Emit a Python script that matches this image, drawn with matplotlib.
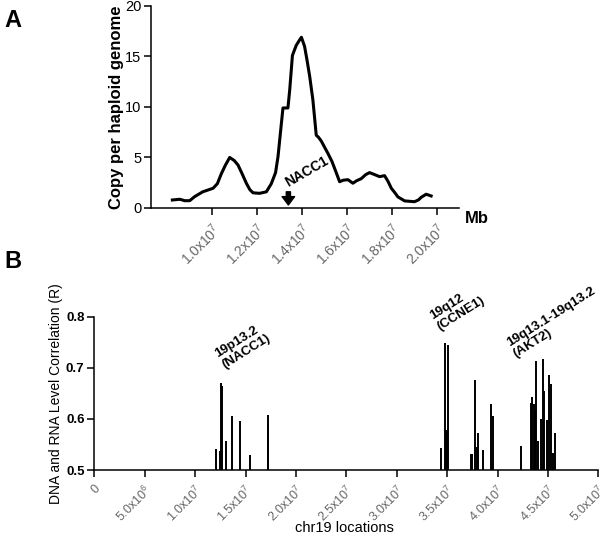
import matplotlib
matplotlib.use('Agg')
import matplotlib.pyplot as plt

plt.rcParams['font.family'] = ['Liberation Sans', 'DejaVu Sans']
plt.rcParams['mathtext.fontset'] = 'custom'
plt.rcParams['mathtext.rm'] = 'Liberation Sans'
plt.rcParams['mathtext.it'] = 'Liberation Sans:italic'
plt.rcParams['mathtext.bf'] = 'Liberation Sans:bold'

# Panel A: copy number along chr19 (positions in Mb)
a_pos = [8.25, 8.58, 8.80, 9.02, 9.24, 9.60, 10.06, 10.25, 10.43, 10.60,
         10.80, 11.00, 11.17, 11.35, 11.54, 11.70, 11.84, 12.13, 12.43, 12.65,
         12.84, 12.95, 13.10, 13.17, 13.39, 13.47, 13.59, 13.76, 13.90, 13.99,
         14.13, 14.25, 14.36, 14.50, 14.65, 14.75, 14.88, 15.00, 15.17, 15.35,
         15.47, 15.69, 15.85, 16.06, 16.28, 16.45, 16.65, 16.85, 17.02, 17.25,
         17.47, 17.69, 17.85, 17.99, 18.15, 18.28, 18.58, 19.02, 19.20, 19.32,
         19.54, 19.76]
a_copy = [0.79, 0.86, 0.72, 0.72, 1.12, 1.60, 1.95, 2.40, 3.40, 4.20,
          5.00, 4.70, 4.25, 3.40, 2.45, 1.80, 1.50, 1.45, 1.60, 2.40,
          3.50, 5.10, 8.40, 9.90, 9.90, 11.70, 15.10, 16.10, 16.60, 16.90,
          16.00, 14.50, 13.00, 10.70, 7.20, 7.00, 6.60, 6.10, 5.40, 4.60,
          3.90, 2.60, 2.75, 2.80, 2.45, 2.70, 2.90, 3.30, 3.50, 3.30,
          3.10, 3.20, 2.60, 1.95, 1.50, 1.10, 0.70, 0.62, 0.80, 1.06,
          1.36, 1.19]
a_xticks = [1.0e7, 1.2e7, 1.4e7, 1.6e7, 1.8e7, 2.0e7]
a_xlabels = [r'1.0x10$^{7}$', r'1.2x10$^{7}$', r'1.4x10$^{7}$',
             r'1.6x10$^{7}$', r'1.8x10$^{7}$', r'2.0x10$^{7}$']
a_yticks = [0, 5, 10, 15, 20]
nacc1_pos = 13.41e6

# Panel B: DNA/RNA correlation per locus (positions in Mb)
b_pos = [12.12, 12.51, 12.61, 12.71, 13.07, 13.70, 14.50, 15.45, 17.20, 17.27,
         34.40, 34.79, 34.90, 35.00, 35.12, 37.40, 37.50, 37.76, 37.92, 38.09,
         38.58, 39.35, 39.57, 42.35, 43.34, 43.47, 43.58, 43.70, 43.83, 44.03,
         44.36, 44.52, 44.65, 44.89, 45.12, 45.35, 45.49, 45.71]
b_corr = [0.541, 0.538, 0.671, 0.665, 0.557, 0.605, 0.595, 0.529, 0.608, 0.588,
          0.544, 0.748, 0.578, 0.578, 0.745, 0.531, 0.531, 0.676, 0.546, 0.572,
          0.539, 0.629, 0.606, 0.547, 0.631, 0.643, 0.630, 0.616, 0.714, 0.556,
          0.600, 0.718, 0.655, 0.597, 0.686, 0.669, 0.534, 0.573]
b_xticks = [0, 5e6, 1e7, 1.5e7, 2e7, 2.5e7, 3e7, 3.5e7, 4e7, 4.5e7, 5e7]
b_xlabels = ['0', r'5.0x10$^{6}$', r'1.0x10$^{7}$', r'1.5x10$^{7}$',
             r'2.0x10$^{7}$', r'2.5x10$^{7}$', r'3.0x10$^{7}$', r'3.5x10$^{7}$',
             r'4.0x10$^{7}$', r'4.5x10$^{7}$', r'5.0x10$^{7}$']
b_yticks = [0.5, 0.6, 0.7, 0.8]
b_regions = ['19p13.2\n(NACC1)', '19q12\n(CCNE1)', '19q13.1-19q13.2\n(AKT2)']
b_region_pos = [(13.1e6, 0.694), (34.4e6, 0.769), (42.0e6, 0.7145)]

gris = '#666666'

fig = plt.figure(figsize=(6.0, 5.36), dpi=100)

# ---- A ----
ax1 = fig.add_axes([0.2517, 0.612, 0.5133, 0.3769])
ax1.plot([p * 1e6 for p in a_pos], a_copy, color='black', lw=2.2)
ax1.set_xlim(7.3e6, 2.1e7)
ax1.set_ylim(0, 20)
ax1.set_xticks(a_xticks)
ax1.set_xticklabels(a_xlabels, rotation=45, ha='right', va='top',
                    rotation_mode='anchor', color=gris, fontsize=10)
ax1.set_yticks(a_yticks)
ax1.tick_params(axis='y', labelsize=10.5, length=5, width=1.1, pad=2)
ax1.tick_params(axis='x', length=5, width=1.1, pad=4)
ax1.set_ylabel('Copy per haploid genome', fontsize=12, fontweight='bold')
ax1.yaxis.set_label_coords(-0.088, 0.5)
for s in ['top', 'right']:
    ax1.spines[s].set_visible(False)
for s in ['left', 'bottom']:
    ax1.spines[s].set_linewidth(1.1)

ax1.annotate('', xy=(nacc1_pos, 0.3), xytext=(nacc1_pos, 1.6),
             arrowprops=dict(facecolor='black', edgecolor='black',
                             width=3, headwidth=9, headlength=6))
ax1.text(13.38e6, 2.1, 'NACC1', rotation=30, rotation_mode='anchor',
         ha='left', va='baseline', fontsize=10, fontweight='bold')
ax1.text(1.02, -0.05, 'Mb', transform=ax1.transAxes, fontsize=12,
         fontweight='bold', ha='left', va='center')

# ---- B ----
ax2 = fig.add_axes([0.1572, 0.1231, 0.84, 0.286])
ax2.vlines([p * 1e6 for p in b_pos], 0.5, b_corr, color='black', lw=1.4)
ax2.set_xlim(0, 5e7)
ax2.set_ylim(0.5, 0.8)
ax2.set_xticks(b_xticks)
ax2.set_xticklabels(b_xlabels, rotation=45, ha='right', va='top',
                    rotation_mode='anchor', color=gris, fontsize=9)
ax2.set_yticks(b_yticks)
ax2.set_yticklabels(['%.1f' % v for v in b_yticks], fontweight='bold')
ax2.tick_params(axis='y', labelsize=9.5, length=5, width=1.1, pad=2)
ax2.tick_params(axis='x', length=5, width=1.1, pad=4)
ax2.set_ylabel('DNA and RNA Level Correlation (R)', fontsize=10)
ax2.yaxis.set_label_coords(-0.062, 0.5)
ax2.set_xlabel('chr19 locations', fontsize=10.5)
ax2.xaxis.set_label_coords(0.497, -0.335)
for s in ['top', 'right']:
    ax2.spines[s].set_visible(False)
for s in ['left', 'bottom']:
    ax2.spines[s].set_linewidth(1.1)

for txt, (x, y) in zip(b_regions, b_region_pos):
    ax2.text(x, y, txt, rotation=32, rotation_mode='anchor', ha='left',
             va='bottom', multialignment='left', fontsize=9.5,
             fontweight='bold', linespacing=1.1, clip_on=False)

fig.text(0.008, 0.962, 'A', fontsize=17, fontweight='bold', ha='left', va='center')
fig.text(0.008, 0.512, 'B', fontsize=17, fontweight='bold', ha='left', va='center')

plt.savefig('out.png', dpi=100, facecolor='white')
plt.close()
